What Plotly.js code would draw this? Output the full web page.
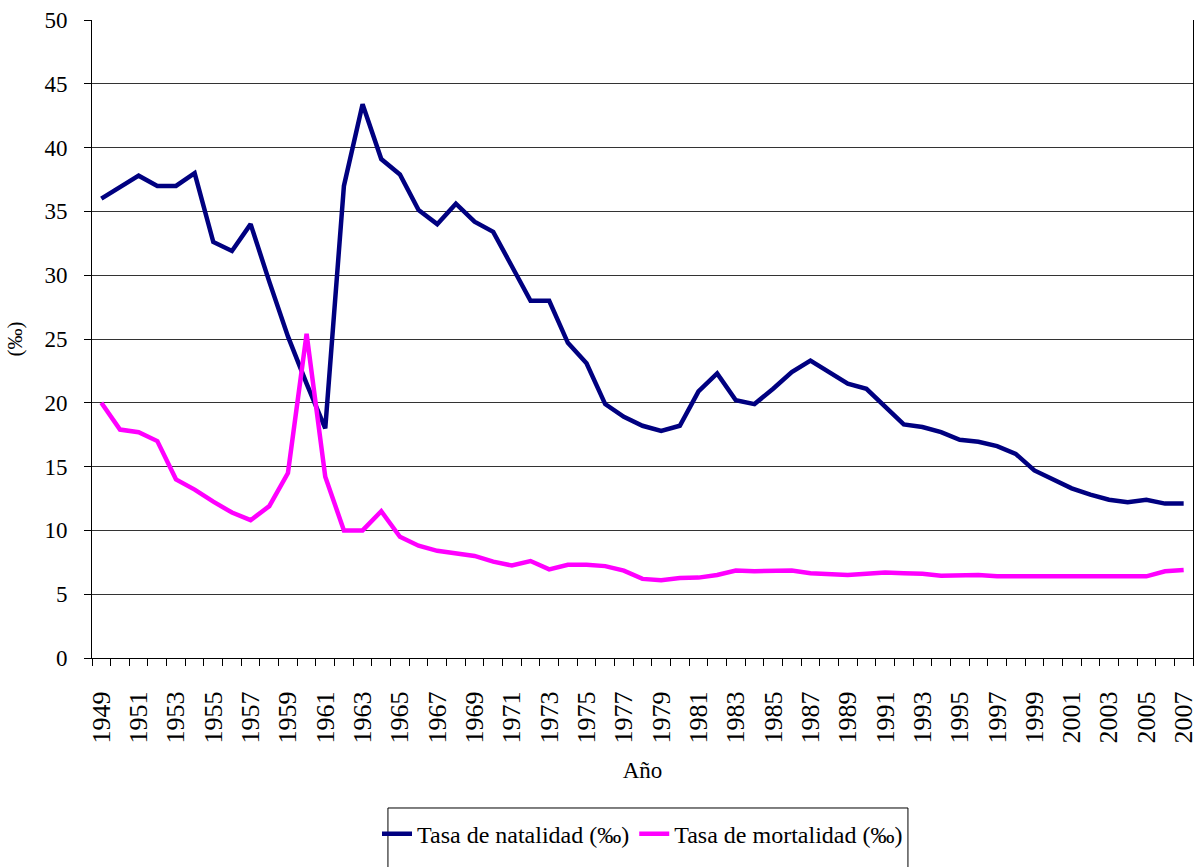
<!DOCTYPE html>
<html>
<head>
<meta charset="utf-8">
<script src="https://cdn.plot.ly/plotly-3.0.1.min.js"></script>
<style>
  html, body { margin: 0; padding: 0; background: #fff; font-family: 'Liberation Serif'; }
  #chart { width: 1194px; height: 867px; }
  #chart text { font-family: 'Liberation Serif', serif !important; }
</style>
</head>
<body>
<div id="chart"></div>
<script>
const years = [1949,1950,1951,1952,1953,1954,1955,1956,1957,1958,1959,1960,1961,1962,1963,1964,1965,1966,1967,1968,1969,1970,1971,1972,1973,1974,1975,1976,1977,1978,1979,1980,1981,1982,1983,1984,1985,1986,1987,1988,1989,1990,1991,1992,1993,1994,1995,1996,1997,1998,1999,2000,2001,2002,2003,2004,2005,2006,2007];

const natalidad = [36.0,36.9,37.8,37.0,37.0,38.0,32.6,31.9,34.0,29.5,25.2,21.5,18.0,37.0,43.4,39.1,37.9,35.1,34.0,35.6,34.2,33.4,30.7,28.0,28.0,24.7,23.1,19.9,18.9,18.2,17.8,18.2,20.9,22.3,20.2,19.9,21.1,22.4,23.3,22.4,21.5,21.1,19.7,18.3,18.1,17.7,17.1,16.95,16.6,16.0,14.7,14.0,13.3,12.8,12.4,12.2,12.4,12.1,12.1];

const mortalidad = [20.0,17.9,17.7,17.0,14.0,13.2,12.25,11.4,10.8,11.9,14.5,25.4,14.2,10.0,10.0,11.5,9.5,8.8,8.4,8.2,8.0,7.55,7.25,7.6,6.95,7.3,7.3,7.2,6.85,6.2,6.1,6.27,6.3,6.5,6.85,6.8,6.8,6.85,6.65,6.6,6.5,6.6,6.7,6.65,6.6,6.45,6.5,6.5,6.4,6.4,6.4,6.4,6.35,6.35,6.35,6.35,6.4,6.8,6.9];

const labelYears = [1949,1951,1953,1955,1957,1959,1961,1963,1965,1967,1969,1971,1973,1975,1977,1979,1981,1983,1985,1987,1989,1991,1993,1995,1997,1999,2001,2003,2005,2007];
const yTicks = [0,5,10,15,20,25,30,35,40,45,50];

const serif = "Liberation Serif";

const traces = [
  {
    x: years, y: natalidad, type: 'scatter', mode: 'lines',
    name: 'Tasa de natalidad (‰)',
    line: {color: '#000080', width: 4.5}
  },
  {
    x: years, y: mortalidad, type: 'scatter', mode: 'lines',
    name: 'Tasa de mortalidad (‰)',
    line: {color: '#FF00FF', width: 4.5}
  }
];

const layout = {
  width: 1194, height: 867,
  margin: {l: 92, r: 1, t: 20, b: 209},
  paper_bgcolor: '#fff', plot_bgcolor: '#fff',
  font: {family: serif, color: '#000', size: 19},
  showlegend: true,
  legend: {
    orientation: 'h', x: 0.5, xanchor: 'center', y: -0.241, yanchor: 'top',
    bordercolor: '#000', borderwidth: 0, bgcolor: 'rgba(0,0,0,0)',
    font: {family: serif, size: 24},
    itemwidth: 30, tracegroupgap: 0
  },
  shapes: [
    {type: 'rect', xref: 'paper', yref: 'paper', x0: 0.2688, x1: 0.7411, y0: -0.2351, y1: -0.335,
     line: {color: '#000', width: 1}, fillcolor: 'rgba(0,0,0,0)', layer: 'below'}
  ],
  xaxis: {
    range: [1948.5, 2007.5],
    tickvals: labelYears,
    ticktext: labelYears.map(String),
    tickangle: -90,
    ticks: '',
    tickfont: {family: serif, size: 26},
    ticklabelstandoff: 22,
    ticklabeloverflow: 'allow',
    showgrid: false, zeroline: false,
    showline: true, linecolor: '#000', linewidth: 1,
    minor: {tick0: 1948.5, dtick: 1, ticks: 'outside', ticklen: 7, tickcolor: '#000', showgrid: false},
    title: {text: 'Año', font: {family: serif, size: 23}, standoff: 19}
  },
  yaxis: {
    range: [0, 50],
    tickvals: yTicks,
    ticks: 'outside', ticklen: 7, tickcolor: '#000',
    tickfont: {family: serif, size: 23},
    ticklabelstandoff: 12,
    showgrid: true, gridcolor: '#333', gridwidth: 1,
    zeroline: false,
    showline: true, mirror: true, linecolor: '#000', linewidth: 1,
    title: {text: '(‰)', font: {family: serif, size: 21}, standoff: 16}
  }
};

Plotly.newPlot('chart', traces, layout, {displayModeBar: false, staticPlot: true});
</script>
</body>
</html>
